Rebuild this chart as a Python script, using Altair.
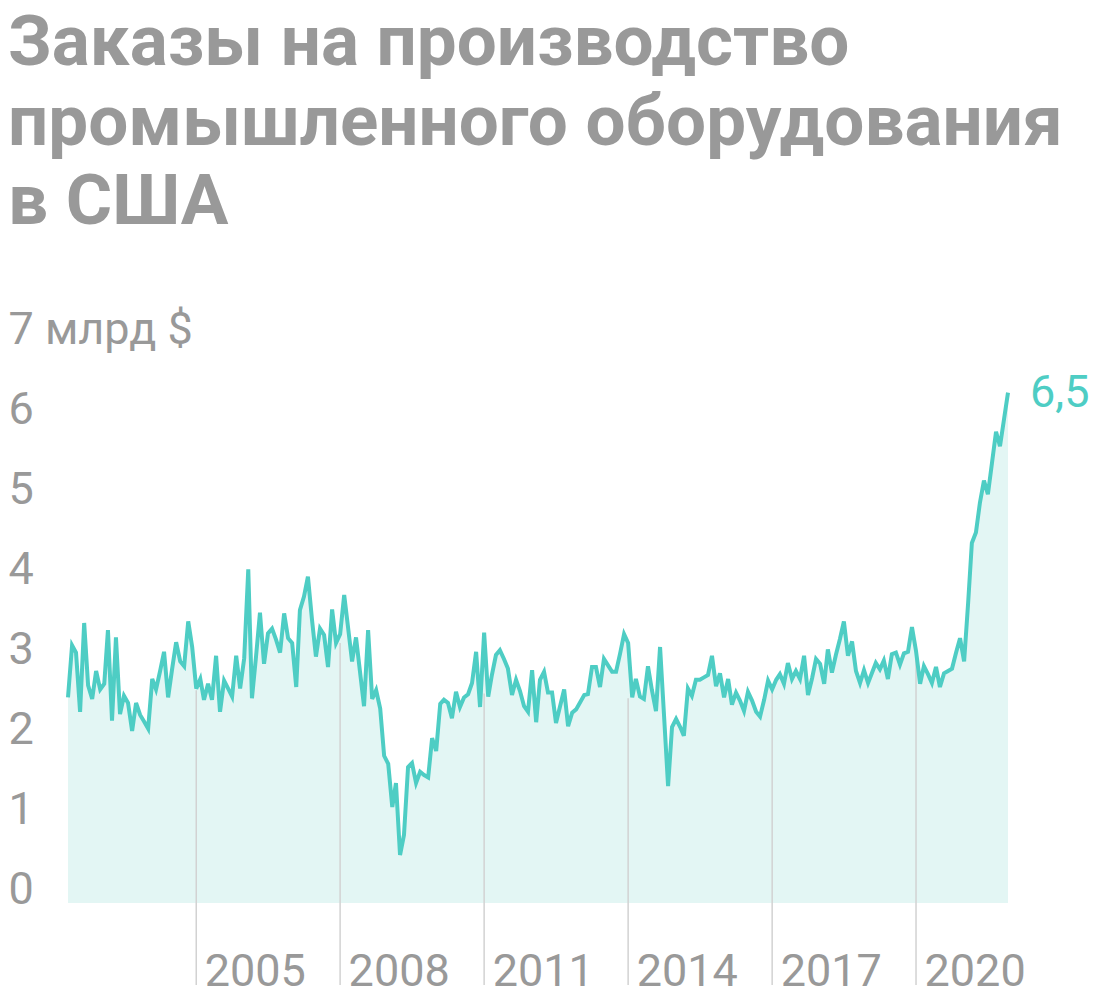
import altair as alt
import pandas as pd

TITLE_LINES = ["Заказы на производство", "промышленного оборудования", "в США"]
START_YEAR = 2002
START_MONTH = 5
VALUES = [
    2.57, 3.22, 3.13, 2.39, 3.50, 2.72, 2.55, 2.90, 2.67, 2.74,
    3.41, 2.28, 3.32, 2.36, 2.59, 2.50, 2.15, 2.50, 2.35, 2.27,
    2.18, 2.80, 2.67, 2.90, 3.14, 2.57, 2.92, 3.26, 3.02, 2.96,
    3.52, 3.20, 2.68, 2.80, 2.54, 2.74, 2.54, 3.09, 2.39, 2.78,
    2.68, 2.58, 3.09, 2.68, 3.06, 4.17, 2.56, 3.08, 3.63, 2.99,
    3.37, 3.43, 3.29, 3.13, 3.62, 3.31, 3.25, 2.70, 3.66, 3.83,
    4.08, 3.54, 3.08, 3.43, 3.35, 2.95, 3.67, 3.25, 3.36, 3.85,
    3.45, 3.02, 3.32, 2.88, 2.46, 3.41, 2.55, 2.66, 2.43, 1.84,
    1.74, 1.20, 1.50, 0.60, 0.85, 1.70, 1.75, 1.50, 1.64, 1.60,
    1.57, 2.06, 1.90, 2.49, 2.54, 2.50, 2.31, 2.64, 2.45, 2.57,
    2.61, 2.75, 3.14, 2.45, 3.38, 2.58, 2.85, 3.10, 3.16, 3.05,
    2.93, 2.60, 2.79, 2.65, 2.46, 2.39, 2.91, 2.26, 2.79, 2.89,
    2.63, 2.63, 2.25, 2.46, 2.67, 2.21, 2.38, 2.42, 2.51, 2.60,
    2.61, 2.95, 2.95, 2.70, 3.05, 2.97, 2.89, 2.89, 3.12, 3.36,
    3.25, 2.57, 2.80, 2.58, 2.55, 2.96, 2.66, 2.40, 3.20, 2.35,
    1.46, 2.20, 2.30, 2.20, 2.09, 2.68, 2.59, 2.79, 2.79, 2.82,
    2.85, 3.09, 2.71, 2.87, 2.57, 2.80, 2.48, 2.63, 2.53, 2.40,
    2.64, 2.53, 2.39, 2.33, 2.54, 2.78, 2.67, 2.79, 2.86, 2.74,
    3.00, 2.80, 2.90, 2.80, 3.09, 2.60, 2.81, 3.05, 2.99, 2.74,
    3.17, 2.88, 3.10, 3.30, 3.52, 3.09, 3.27, 2.90, 2.75, 2.91,
    2.75, 2.88, 3.00, 2.92, 3.03, 2.80, 3.11, 3.13, 2.98, 3.12,
    3.14, 3.45, 3.15, 2.74, 2.96, 2.86, 2.75, 2.95, 2.70, 2.87,
    2.90, 2.93, 3.13, 3.31, 3.02, 3.76, 4.50, 4.63, 5.00, 5.28,
    5.11, 5.50, 5.89, 5.71, 6.05, 6.38,
]
GRID_YEARS = [2005, 2008, 2011, 2014, 2017, 2020]
GRID_TOPS = [2.66, 3.25, 2.62, 2.56, 2.66, 3.16]
Y_TICKS = [0, 1, 2, 3, 4, 5, 6, 7]
Y_UNIT = "млрд $"
END_LABEL = "6,5"

TEAL = "#4ecdc4"
FILL = "#e3f6f4"
GRAY = "#999999"
GRID = "#d2d2d2"
FONT = "Roboto"

dates = []
yy, mm = START_YEAR, START_MONTH
for _ in VALUES:
    dates.append(f"{yy:04d}-{mm:02d}-01")
    mm += 1
    if mm > 12:
        mm = 1
        yy += 1

df = pd.DataFrame({"date": dates, "value": VALUES})
grid_df = pd.DataFrame({"date": [f"{y}-01-01" for y in GRID_YEARS], "value": GRID_TOPS})
end_df = pd.DataFrame({"date": [dates[-1]], "value": [VALUES[-1]], "label": [END_LABEL]})

x_enc = alt.X(
    "date:T",
    scale=alt.Scale(type="utc", nice=False, domain=[
        alt.DateTime(year=START_YEAR, month=START_MONTH, date=1, utc=True),
        alt.DateTime(year=int(dates[-1][:4]), month=int(dates[-1][5:7]), date=1, utc=True),
    ]),
    axis=alt.Axis(
        values=[alt.DateTime(year=y, month=1, date=1, utc=True) for y in GRID_YEARS],
        format="%Y", title=None, domain=False, ticks=False, tickSize=0, grid=False,
        labelAlign="left", labelBaseline="alphabetic", labelPadding=82, labelOffset=8,
        labelFontSize=45, labelColor=GRAY, labelFont=FONT, labelFlush=False,
        labelOverlap=False, labelBound=False, labelLimit=0,
    ),
)
y_enc = alt.Y(
    "value:Q",
    scale=alt.Scale(domain=[0, 7], nice=False, zero=True),
    axis=alt.Axis(
        values=Y_TICKS, title=None, domain=False, ticks=False, tickSize=0, grid=False,
        labelAlign="left", labelBaseline="alphabetic", labelPadding=60,
        labelFontSize=45, labelColor=GRAY, labelFont=FONT, labelOverlap=False,
        labelLimit=0,
        labelExpr=f"datum.value == {Y_TICKS[-1]} ? datum.label + ' {Y_UNIT}' : datum.label",
    ),
)

base = alt.Chart(df).encode(x=x_enc, y=y_enc)
area = base.mark_area(color=FILL, opacity=1)
line = base.mark_line(color=TEAL, strokeWidth=4, strokeJoin="miter")
rules = alt.Chart(grid_df).mark_rule(color=GRID, strokeWidth=1.5).encode(
    x=x_enc, y=y_enc, y2=alt.value(642)
)
end_text = alt.Chart(end_df).mark_text(
    align="left", baseline="middle", dx=22, fontSize=45, color=TEAL, font=FONT
).encode(x=x_enc, y=y_enc, text="label:N")

chart = alt.layer(area, rules, line, end_text).properties(
    width=940,
    height=560,
    padding={"left": 0, "top": 0, "right": 0, "bottom": 12},
    background="white",
    title=alt.TitleParams(
        text=TITLE_LINES, anchor="start", frame="bounds", fontSize=71,
        fontWeight="bold", font=FONT, color=GRAY, lineHeight=79.5, offset=68,
    ),
).configure_view(stroke=None)

chart.save("out.html", embed_options={"renderer": "svg", "actions": False})
